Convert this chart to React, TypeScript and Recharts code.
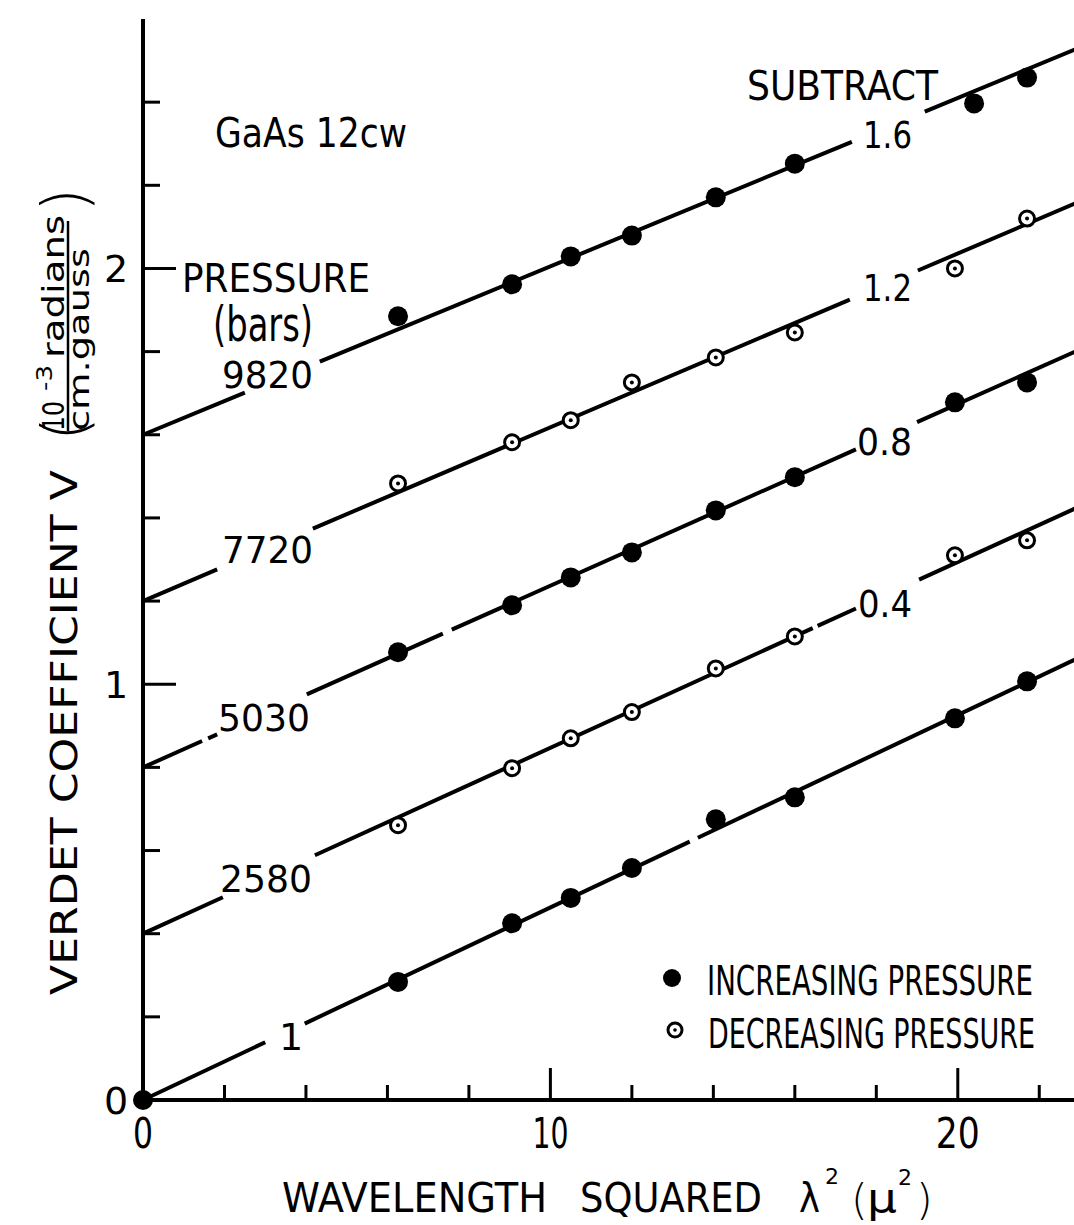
import React from 'react';
import { ComposedChart, XAxis, YAxis, Scatter, ReferenceLine } from 'recharts';

// ---------- data ----------
const xTicks = [0, 2, 4, 6, 8, 10, 12, 14, 16, 18, 20, 22];
const xTickLabels: Record<number, string> = { 0: '0', 10: '10', 20: '20' };
const yTicks = [0, 0.2, 0.4, 0.6, 0.8, 1, 1.2, 1.4, 1.6, 1.8, 2, 2.2, 2.4];
const yTickLabels: Record<number, string> = { 0: '0', 1: '1', 2: '2' };

const pressureLabels = ['1', '2580', '5030', '7720', '9820'];
const subtractLabels = ['', '0.4', '0.8', '1.2', '1.6'];
const subtractOffsets = [0, 0.4, 0.8, 1.2, 1.6];
const fitSlopes = [0.0463, 0.0447, 0.0437, 0.0418, 0.0405];
const pointKinds = ['filled', 'open', 'filled', 'open', 'filled'];

const lambda2 = [6.26, 9.06, 10.5, 12.0, 14.06, 16.0, 19.93, 21.7];
const lambda2P1 = [0, 6.26, 9.06, 10.5, 12.0, 14.06, 16.0, 19.93, 21.7];
const lambda2P9820 = [6.26, 9.06, 10.5, 12.0, 14.06, 16.0, 20.4, 21.7];

const vP1 = [0, 0.284, 0.425, 0.486, 0.558, 0.675, 0.728, 0.918, 1.007];
const vP2580 = [0.661, 0.798, 0.87, 0.933, 1.038, 1.115, 1.31, 1.346];
const vP5030 = [1.077, 1.19, 1.257, 1.317, 1.418, 1.498, 1.678, 1.726];
const vP7720 = [1.483, 1.582, 1.635, 1.726, 1.786, 1.846, 2.0, 2.12];
const vP9820 = [1.885, 1.962, 2.029, 2.079, 2.171, 2.252, 2.397, 2.459];

// gaps in the drawn fit lines (where labels sit), in λ² units
const lineGaps: number[][][] = [
  [[3.0, 3.97], [13.42, 13.62]],
  [[1.96, 4.22], [16.44, 16.56], [17.5, 19.05]],
  [[1.45, 1.6], [1.82, 4.02], [7.36, 7.58], [17.5, 19.0]],
  [[1.82, 4.17], [17.35, 19.02]],
  [[2.5, 4.34], [17.4, 19.19]],
];

const X_MAX = 23;
const Y_MAX = 2.6;

const seriesX = [lambda2P1, lambda2, lambda2, lambda2, lambda2P9820];
const seriesV = [vP1, vP2580, vP5030, vP7720, vP9820];

const seriesData = seriesX.map((xs, i) => xs.map((x, j) => ({ x, y: seriesV[i][j] })));

const FONT = "'DejaVu Sans', 'Liberation Sans', sans-serif";
const COND = "'DejaVu Sans Condensed', 'Liberation Sans Narrow', 'DejaVu Sans', sans-serif";
const LIGHT = "'DejaVu Sans ExtraLight', 'DejaVu Sans', sans-serif";

// ---------- marks ----------
const FilledDot = (props: any) => {
  const { cx, cy } = props;
  if (cx == null || cy == null) return null;
  return <circle cx={cx} cy={cy} r={10} fill="#000" />;
};
const OpenDot = (props: any) => {
  const { cx, cy } = props;
  if (cx == null || cy == null) return null;
  return (
    <g>
      <circle cx={cx} cy={cy} r={7.5} fill="#fff" stroke="#000" strokeWidth={3} />
      <circle cx={cx} cy={cy} r={2} fill="#000" />
    </g>
  );
};

const isMajor = (v: number) => v > 0 && Math.abs(v - Math.round(v)) < 1e-6;

const BottomTick = (props: any) => {
  const { x, y, payload } = props;
  const v = payload.value;
  const major = v % 10 === 0;
  const label = xTickLabels[v];
  const widths: Record<number, number> = { 0: 20, 10: 36, 20: 44 };
  return (
    <g>
      {v !== 0 && <line x1={x} x2={x} y1={y} y2={y - (major ? 32 : 15)} stroke="#000" strokeWidth={3} />}
      {label && (
        <text x={x} y={y + 48} textAnchor="middle" fontSize={42} fontFamily={FONT} fill="#000"
          textLength={widths[v]} lengthAdjust="spacingAndGlyphs">{label}</text>
      )}
    </g>
  );
};

const TopTick = (props: any) => {
  const { x, y, payload } = props;
  const v = payload.value;
  if (v === 0) return null;
  const major = v % 10 === 0;
  return <line x1={x} x2={x} y1={y} y2={y + (major ? 32 : 15)} stroke="#000" strokeWidth={3} />;
};

const LeftTick = (props: any) => {
  const { x, y, payload } = props;
  const v = payload.value;
  const label = yTickLabels[Math.round(v * 10) / 10];
  return (
    <g>
      {v > 0 && <line x1={x} x2={x + (isMajor(v) ? 33 : 17)} y1={y} y2={y} stroke="#000" strokeWidth={3} />}
      {label !== undefined && Math.abs(v - Math.round(v)) < 1e-6 && (
        <text x={x - 27} y={y + 14} textAnchor="middle" fontSize={38} fontFamily={FONT} fill="#000">{label}</text>
      )}
    </g>
  );
};

const RightTick = (props: any) => {
  const { x, y, payload } = props;
  const v = payload.value;
  if (v <= 0) return null;
  return <line x1={x} x2={x - (isMajor(v) ? 36 : 20)} y1={y} y2={y} stroke="#000" strokeWidth={3} />;
};

const T = (p: any) => (
  <text fontFamily={FONT} fill="#000" lengthAdjust="spacingAndGlyphs" {...p} />
);

export default function App() {
  const segments: { a: number; b: number; i: number }[] = [];
  lineGaps.forEach((gaps, i) => {
    const starts = [0, ...gaps.map((g) => g[1])];
    const ends = [...gaps.map((g) => g[0]), X_MAX];
    starts.forEach((s, k) => segments.push({ a: s, b: ends[k], i }));
  });

  return (
    <div style={{ position: 'absolute', left: 0, top: 0, width: 1074, height: 1225, overflow: 'hidden', background: '#fff' }}>
      <ComposedChart width={1200} height={1225} margin={{ top: 19, right: 120, bottom: 0, left: 0 }}>
        <XAxis dataKey="x" type="number" domain={[0, X_MAX]} ticks={xTicks} interval={0} height={125}
          tickSize={0} tickMargin={0} tickLine={false} axisLine={{ stroke: '#000', strokeWidth: 4 }} tick={<BottomTick />} />
        <XAxis xAxisId="top" orientation="top" type="number" domain={[0, X_MAX]} ticks={xTicks} interval={0} height={0}
          tickSize={0} tickMargin={0} tickLine={false} axisLine={{ stroke: '#000', strokeWidth: 4 }} tick={<TopTick />} />
        <YAxis dataKey="y" type="number" domain={[0, Y_MAX]} ticks={yTicks} interval={0} width={143}
          tickSize={0} tickMargin={0} tickLine={false} axisLine={{ stroke: '#000', strokeWidth: 4 }} tick={<LeftTick />} />
        <YAxis yAxisId="right" orientation="right" type="number" domain={[0, Y_MAX]} ticks={yTicks} interval={0} width={0}
          tickSize={0} tickMargin={0} tickLine={false} axisLine={{ stroke: '#000', strokeWidth: 4 }} tick={<RightTick />} />
        {segments.map((s, k) => (
          <ReferenceLine key={'seg' + k}
            segment={[
              { x: s.a, y: subtractOffsets[s.i] + fitSlopes[s.i] * s.a },
              { x: s.b, y: subtractOffsets[s.i] + fitSlopes[s.i] * s.b },
            ]}
            stroke="#000" strokeWidth={4} ifOverflow="visible" />
        ))}
        {seriesData.map((d, i) => (
          <Scatter key={pressureLabels[i]} name={pressureLabels[i]} data={d} isAnimationActive={false}
            shape={pointKinds[i] === 'filled' ? <FilledDot /> : <OpenDot />} />
        ))}
      </ComposedChart>

      <svg width={1074} height={1225} style={{ position: 'absolute', left: 0, top: 0, pointerEvents: 'none' }}>
        {/* sample and header labels */}
        <T x={215} y={147} fontSize={40} textLength={192}>GaAs 12cw</T>
        <T x={182} y={292} fontSize={39} textLength={188}>PRESSURE</T>
        <T x={213} y={341} fontSize={48} textLength={100}>(bars)</T>
        <T x={747} y={100} fontSize={40} textLength={191}>SUBTRACT</T>

        {/* pressure labels */}
        <T x={222} y={388} fontSize={38} textLength={91}>{pressureLabels[4]}</T>
        <T x={222} y={563} fontSize={38} textLength={91}>{pressureLabels[3]}</T>
        <T x={218} y={731} fontSize={38} textLength={92}>{pressureLabels[2]}</T>
        <T x={220} y={892} fontSize={38} textLength={92}>{pressureLabels[1]}</T>
        <T x={291} y={1050} fontSize={38} textAnchor="middle">{pressureLabels[0]}</T>

        {/* subtract labels */}
        <T x={863} y={148} fontSize={38} textLength={49}>{subtractLabels[4]}</T>
        <T x={863} y={301} fontSize={38} textLength={49}>{subtractLabels[3]}</T>
        <T x={857} y={455} fontSize={38} textLength={55}>{subtractLabels[2]}</T>
        <T x={858} y={617} fontSize={38} textLength={54}>{subtractLabels[1]}</T>

        {/* legend */}
        <circle cx={672} cy={978} r={9} fill="#000" />
        <T x={707} y={995} fontSize={40} textLength={326} fontFamily={COND}>INCREASING PRESSURE</T>
        <circle cx={675} cy={1030} r={7} fill="#fff" stroke="#000" strokeWidth={3} />
        <circle cx={675} cy={1030} r={1.8} fill="#000" />
        <T x={708} y={1048} fontSize={40} textLength={327} fontFamily={COND}>DECREASING PRESSURE</T>

        {/* x-axis title */}
        <T x={282} y={1212} fontSize={40} textLength={265}>WAVELENGTH</T>
        <T x={580} y={1212} fontSize={40} textLength={182}>SQUARED</T>
        <T x={799} y={1212} fontSize={40} textLength={21}>λ</T>
        <T x={825} y={1184} fontSize={22}>2</T>
        <T x={851} y={1215} fontSize={43} fontFamily={LIGHT} fontWeight={200}>(</T>
        <T x={867} y={1212} fontSize={40} textLength={30}>μ</T>
        <T x={898} y={1185} fontSize={22}>2</T>
        <T x={916} y={1215} fontSize={43} fontFamily={LIGHT} fontWeight={200}>)</T>

        {/* y-axis title */}
        <g transform="translate(77,995) rotate(-90)">
          <T x={0} y={0} fontSize={37} textLength={525}>VERDET COEFFICIENT V</T>
        </g>
        <g transform="translate(64,431) rotate(-90)">
          <T x={0} y={0} fontSize={30} textLength={30}>10</T>
          <T x={40} y={-12} fontSize={22} textLength={26}>-3</T>
          <T x={73} y={0} fontSize={30} textLength={143}>radians</T>
        </g>
        <line x1={68} x2={68} y1={221} y2={431} stroke="#000" strokeWidth={2.5} />
        <g transform="translate(89,431) rotate(-90)">
          <T x={0} y={0} fontSize={28} textLength={183}>cm.gauss</T>
        </g>
        <g transform="translate(86,441) rotate(-90)">
          <T x={0} y={0} fontSize={62} fontFamily={LIGHT} fontWeight={200}>(</T>
        </g>
        <g transform="translate(86,212) rotate(-90)">
          <T x={0} y={0} fontSize={62} fontFamily={LIGHT} fontWeight={200}>)</T>
        </g>
      </svg>
    </div>
  );
}
